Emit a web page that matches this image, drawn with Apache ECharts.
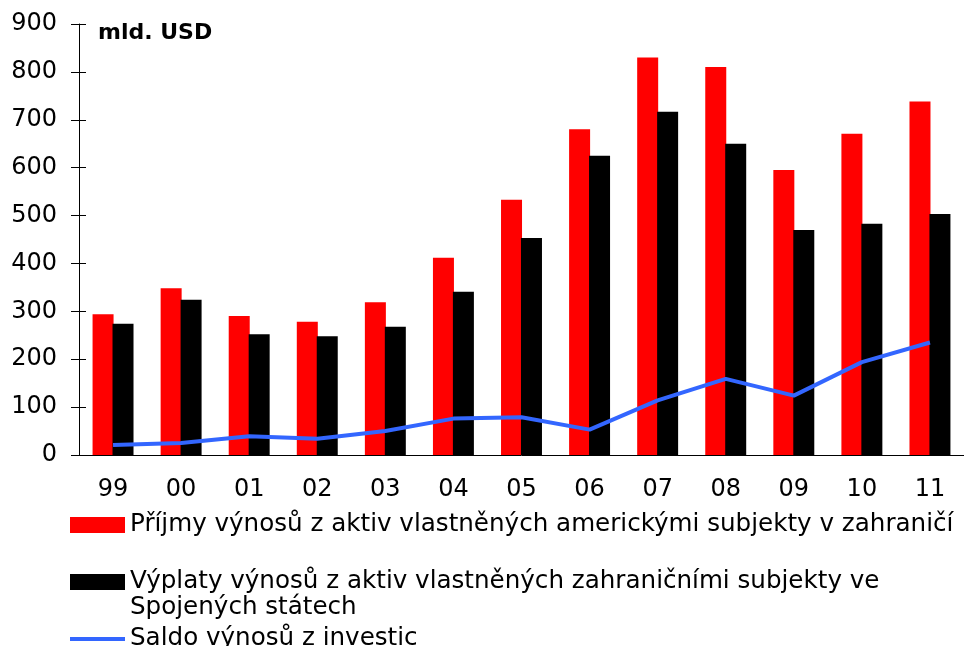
<!DOCTYPE html>
<html>
<head>
<meta charset="utf-8">
<script src="https://cdn.jsdelivr.net/npm/echarts@6/dist/echarts.min.js"></script>
<style>
  html, body { margin: 0; padding: 0; background: #fff; }
  #chart { width: 964px; height: 646px; }
</style>
</head>
<body>
<div id="chart"></div>
<script>
const years = ['99', '00', '01', '02', '03', '04', '05', '06', '07', '08', '09', '10', '11']
const prijmy = [294, 348, 290, 278, 319, 412, 533, 680, 830, 810, 595, 671, 738]
const vyplaty = [274, 324, 252, 248, 268, 341, 453, 625, 717, 650, 470, 483, 503]
const saldo = [21, 25, 39, 34, 50, 76, 79, 53, 114, 159, 124, 194, 235]

const nameRed = 'Příjmy výnosů z aktiv vlastněných americkými subjekty v zahraničí'
const nameBlack = 'Výplaty výnosů z aktiv vlastněných zahraničními subjekty ve Spojených státech'
const nameBlue = 'Saldo výnosů z investic'

const font = 'DejaVu Sans'
const legendText = { fontFamily: font, fontSize: 24.6, color: '#000', lineHeight: 26 }

let myChart = echarts.init(document.getElementById('chart'))
let option = {
  animation: false,
  textStyle: { fontFamily: font },
  grid: { left: 79, top: 24, right: -8, bottom: 191 },
  graphic: [{
    type: 'text',
    left: 98,
    top: 22,
    style: { text: 'mld. USD', font: 'bold 22px "DejaVu Sans"', fill: '#000' }
  }],
  legend: [
    {
      left: 70, top: 512, padding: 0, itemWidth: 55, itemHeight: 16, icon: 'rect',
      data: [nameRed], textStyle: legendText
    },
    {
      left: 70, top: 543, padding: 0, itemWidth: 55, itemHeight: 16, icon: 'rect',
      data: [nameBlack],
      // blank first line keeps the icon level with the first text line
      formatter: function (n) { return ' \n' + n.replace(' Spojených', '\nSpojených') },
      textStyle: legendText
    },
    {
      left: 70, top: 626, padding: 0, itemWidth: 55, itemHeight: 4, icon: 'rect',
      data: [nameBlue], textStyle: legendText
    }
  ],
  xAxis: [
    {
      type: 'category',
      data: years,
      axisLine: { lineStyle: { color: '#000', width: 1 } },
      axisTick: { length: 8, lineStyle: { color: '#000' } },
      axisLabel: { margin: 23, fontFamily: font, fontSize: 24, color: '#000' }
    },
    {
      type: 'category',
      data: years,
      position: 'bottom',
      axisLine: { show: false },
      axisTick: { inside: true, length: 8, lineStyle: { color: '#000' } },
      axisLabel: { show: false }
    }
  ],
  yAxis: [
    {
      type: 'value',
      min: 0,
      max: 900,
      interval: 100,
      axisLine: { show: true, lineStyle: { color: '#000', width: 1 } },
      axisTick: { show: true, length: 8, lineStyle: { color: '#000' } },
      axisLabel: { margin: 22, fontFamily: font, fontSize: 24, color: '#000' },
      splitLine: { show: false }
    },
    {
      type: 'value',
      min: 0,
      max: 900,
      interval: 100,
      position: 'left',
      axisLine: { show: false },
      axisTick: { show: true, inside: true, length: 7, lineStyle: { color: '#000' } },
      axisLabel: { show: false },
      splitLine: { show: false }
    }
  ],
  series: [
    {
      name: nameRed,
      type: 'bar',
      data: prijmy,
      barWidth: 21,
      barGap: '-5%',
      itemStyle: { color: '#ff0000' }
    },
    {
      name: nameBlack,
      type: 'bar',
      data: vyplaty,
      barWidth: 21,
      itemStyle: { color: '#000000' }
    },
    {
      name: nameBlue,
      type: 'line',
      data: saldo,
      symbol: 'none',
      lineStyle: { color: '#3366ff', width: 4 },
      itemStyle: { color: '#3366ff' }
    }
  ]
}
myChart.setOption(option)
window.addEventListener('resize', function () {
  myChart.resize()
})
</script>
</body>
</html>
